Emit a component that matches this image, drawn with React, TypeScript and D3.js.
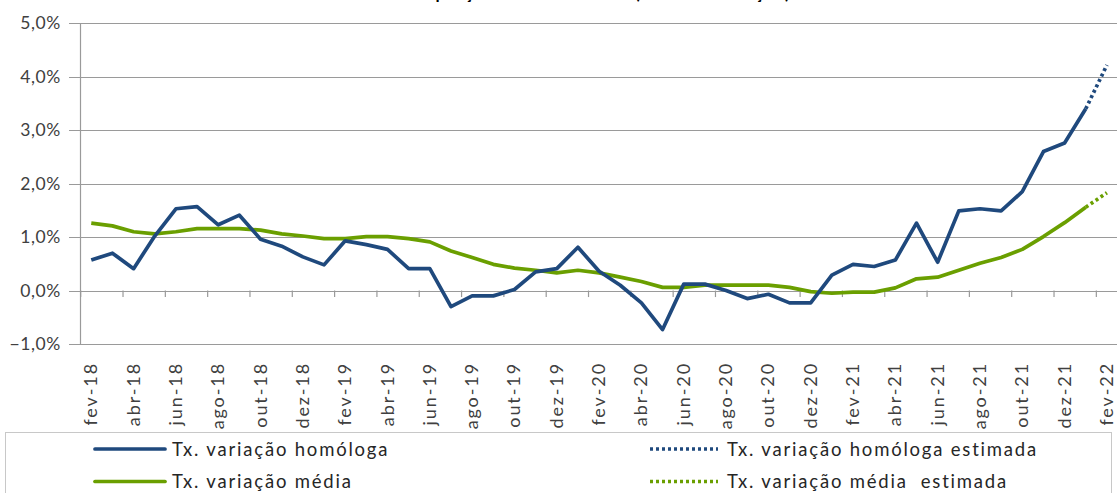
import React, { useEffect, useRef } from "react";
import * as d3 from "d3";

const months = [
  "fev-18", "mar-18", "abr-18", "mai-18", "jun-18", "jul-18", "ago-18", "set-18", "out-18", "nov-18", "dez-18",
  "jan-19", "fev-19", "mar-19", "abr-19", "mai-19", "jun-19", "jul-19", "ago-19", "set-19", "out-19", "nov-19", "dez-19",
  "jan-20", "fev-20", "mar-20", "abr-20", "mai-20", "jun-20", "jul-20", "ago-20", "set-20", "out-20", "nov-20", "dez-20",
  "jan-21", "fev-21", "mar-21", "abr-21", "mai-21", "jun-21", "jul-21", "ago-21", "set-21", "out-21", "nov-21", "dez-21",
  "jan-22", "fev-22",
];

// taxa de variação homóloga (%), fev-18 .. jan-22
const homologa = [
  0.57, 0.70, 0.41, 1.02, 1.53, 1.57, 1.23, 1.41, 0.96, 0.83, 0.63,
  0.48, 0.93, 0.86, 0.77, 0.41, 0.41, -0.30, -0.10, -0.10, 0.02, 0.35, 0.41,
  0.81, 0.36, 0.10, -0.23, -0.73, 0.12, 0.12, 0.0, -0.15, -0.07, -0.23, -0.23,
  0.29, 0.49, 0.45, 0.57, 1.26, 0.53, 1.49, 1.53, 1.49, 1.85, 2.60, 2.76,
  3.40,
];

// taxa de variação média (%), fev-18 .. jan-22
const media = [
  1.26, 1.21, 1.10, 1.06, 1.10, 1.16, 1.16, 1.16, 1.13, 1.06, 1.02,
  0.97, 0.97, 1.01, 1.01, 0.97, 0.91, 0.74, 0.62, 0.49, 0.42, 0.38, 0.33,
  0.38, 0.33, 0.25, 0.17, 0.06, 0.06, 0.10, 0.10, 0.10, 0.10, 0.06, -0.02,
  -0.05, -0.03, -0.03, 0.05, 0.22, 0.25, 0.38, 0.51, 0.62, 0.77, 1.01, 1.27,
  1.56,
];

// estimativas (jan-22 .. fev-22)
const homologaEst = [3.40, 4.22];
const mediaEst = [1.56, 1.83];
const estMonths = ["jan-22", "fev-22"];

const yTicks = [-1, 0, 1, 2, 3, 4, 5];

const BLUE = "#1f497d";
const GREEN = "#6a9f00";
const FONT = "Lato, 'Open Sans', sans-serif";

const App: React.FC = () => {
  const svgRef = useRef<SVGSVGElement | null>(null);

  useEffect(() => {
    document.body.style.margin = "0";
    const width = 1117;
    const height = 493;
    const svg = d3.select(svgRef.current);
    svg.selectAll("*").remove();
    svg.attr("width", width).attr("height", height);

    const x = d3.scaleBand<string>().domain(months).range([80.7, 1117.5]).padding(0);
    const y = d3.scaleLinear().domain([-1, 5]).range([344, 23.3]);
    const cx = (m: string) => (x(m) ?? 0) + x.bandwidth() / 2;

    svg.append("rect").attr("width", width).attr("height", height).attr("fill", "#fff");

    // title (only its lower edge is inside the picture)
    svg
      .append("text")
      .attr("x", 570)
      .attr("y", -1)
      .attr("text-anchor", "middle")
      .attr("font-family", FONT)
      .attr("font-weight", "bold")
      .attr("font-size", 17)
      .attr("letter-spacing", 1.4)
      .attr("fill", "#000")
      .text("Índice de preços no consumidor (taxa de variação)");

    // gridlines
    svg
      .append("g")
      .selectAll("line")
      .data(yTicks)
      .join("line")
      .attr("x1", 69)
      .attr("x2", width)
      .attr("y1", (d) => Math.round(y(d)) + 0.5)
      .attr("y2", (d) => Math.round(y(d)) + 0.5)
      .attr("stroke", "#9a9a9a")
      .attr("stroke-width", 1.2);

    // y axis line
    svg
      .append("line")
      .attr("x1", 80.5)
      .attr("x2", 80.5)
      .attr("y1", y(5))
      .attr("y2", y(-1))
      .attr("stroke", "#9a9a9a")
      .attr("stroke-width", 1.2);

    // y labels
    svg
      .append("g")
      .selectAll("text")
      .data(yTicks)
      .join("text")
      .attr("x", 61)
      .attr("y", (d) => y(d) + 6)
      .attr("text-anchor", "end")
      .attr("font-family", FONT)
      .attr("font-size", 17.5)
      .attr("letter-spacing", 0.6)
      .attr("fill", "#404040")
      .text((d) => d3.format(".1f")(d).replace(".", ",") + "%");

    // x tick marks on the zero line
    const tickIdx = months.map((_, i) => i).filter((i) => i % 2 === 0);
    svg
      .append("g")
      .selectAll("line")
      .data(tickIdx)
      .join("line")
      .attr("x1", (i) => x(months[i]) ?? 0)
      .attr("x2", (i) => x(months[i]) ?? 0)
      .attr("y1", y(0))
      .attr("y2", y(0) + 6.5)
      .attr("stroke", "#9a9a9a")
      .attr("stroke-width", 1.2);

    // x labels
    svg
      .append("g")
      .selectAll("text")
      .data(tickIdx)
      .join("text")
      .attr("transform", (i) => `translate(${cx(months[i]) + 6},362) rotate(-90)`)
      .attr("text-anchor", "end")
      .attr("font-family", FONT)
      .attr("font-size", 18)
      .attr("letter-spacing", 1.9)
      .attr("fill", "#404040")
      .text((i) => months[i]);

    const line = d3
      .line<number>()
      .x((_, i) => cx(months[i]))
      .y((d) => y(d));

    const estLine = d3
      .line<number>()
      .x((_, i) => cx(estMonths[i]))
      .y((d) => y(d));

    svg
      .append("path")
      .attr("d", line(media))
      .attr("fill", "none")
      .attr("stroke", GREEN)
      .attr("stroke-width", 3.7)
      .attr("stroke-linejoin", "round");

    svg
      .append("path")
      .attr("d", estLine(mediaEst))
      .attr("fill", "none")
      .attr("stroke", GREEN)
      .attr("stroke-width", 3.7)
      .attr("stroke-dasharray", "3 3");

    svg
      .append("path")
      .attr("d", line(homologa))
      .attr("fill", "none")
      .attr("stroke", BLUE)
      .attr("stroke-width", 3.7)
      .attr("stroke-linejoin", "round");

    svg
      .append("path")
      .attr("d", estLine(homologaEst))
      .attr("fill", "none")
      .attr("stroke", BLUE)
      .attr("stroke-width", 3.7)
      .attr("stroke-dasharray", "3 3");

    // legend
    svg
      .append("rect")
      .attr("x", 5.5)
      .attr("y", 432.5)
      .attr("width", 1106)
      .attr("height", 80)
      .attr("fill", "#fff")
      .attr("stroke", "#c8c8c8")
      .attr("stroke-width", 1);

    const legendItems = [
      { label: "Tx. variação homóloga", color: BLUE, dash: null, x: 95, y: 449 },
      { label: "Tx. variação média", color: GREEN, dash: null, x: 95, y: 481.5 },
      { label: "Tx. variação homóloga estimada", color: BLUE, dash: "3 3", x: 650, y: 449 },
      { label: "Tx. variação média  estimada", color: GREEN, dash: "3 3", x: 650, y: 481.5 },
    ];

    const lg = svg.append("g").selectAll("g").data(legendItems).join("g");
    lg.append("line")
      .attr("x1", (d) => d.x)
      .attr("x2", (d) => d.x + (d.dash ? 68 : 70))
      .attr("y1", (d) => d.y)
      .attr("y2", (d) => d.y)
      .attr("stroke", (d) => d.color)
      .attr("stroke-width", 3.7)
      .attr("stroke-linecap", (d) => (d.dash ? "butt" : "round"))
      .attr("stroke-dasharray", (d) => d.dash ?? null);
    lg.append("text")
      .attr("x", (d) => d.x + 77)
      .attr("y", (d) => d.y + 6.5)
      .attr("font-family", FONT)
      .attr("font-size", 18.5)
      .attr("letter-spacing", 1.8)
      .attr("fill", "#262626")
      .attr("xml:space", "preserve")
      .style("white-space", "pre")
      .text((d) => d.label);
  }, []);

  return (
    <div style={{ position: "absolute", left: 0, top: 0 }}>
      <svg ref={svgRef}></svg>
    </div>
  );
};

export default App;
